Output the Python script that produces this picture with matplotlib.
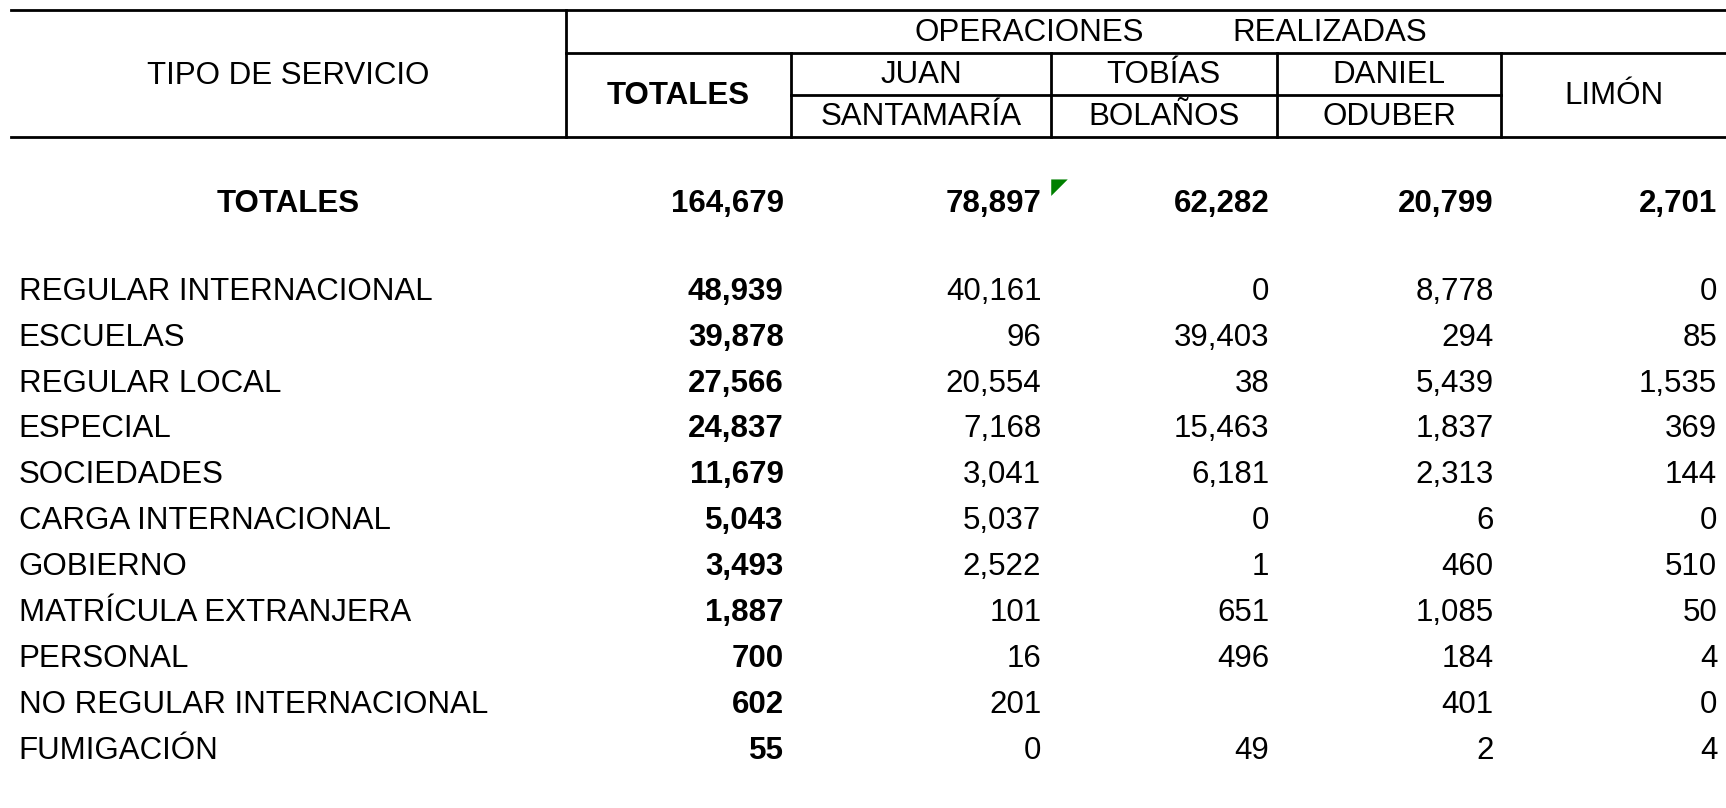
import matplotlib
matplotlib.use("Agg")
import matplotlib.pyplot as plt
from matplotlib.patches import Polygon

plt.rcParams['font.family'] = ['Liberation Sans', 'DejaVu Sans']

servicios = ["REGULAR INTERNACIONAL", "ESCUELAS", "REGULAR LOCAL", "ESPECIAL",
             "SOCIEDADES", "CARGA INTERNACIONAL", "GOBIERNO", "MATRÍCULA EXTRANJERA",
             "PERSONAL", "NO REGULAR INTERNACIONAL", "FUMIGACIÓN"]
totales = [48939, 39878, 27566, 24837, 11679, 5043, 3493, 1887, 700, 602, 55]
juan_santamaria = [40161, 96, 20554, 7168, 3041, 5037, 2522, 101, 16, 201, 0]
tobias_bolanos = [0, 39403, 38, 15463, 6181, 0, 1, 651, 496, None, 49]
daniel_oduber = [8778, 294, 5439, 1837, 2313, 6, 460, 1085, 184, 401, 2]
limon = [0, 85, 1535, 369, 144, 0, 510, 50, 4, 0, 4]
fila_totales = [164679, 78897, 62282, 20799, 2701]

columnas = [totales, juan_santamaria, tobias_bolanos, daniel_oduber, limon]

fig = plt.figure(figsize=(17.26, 8.08), dpi=100)
ax = fig.add_axes([0, 0, 1, 1])
ax.set_xlim(0, 1568)
ax.set_ylim(734, 0)
ax.axis('off')

fs = 22.5
lw = 2.0

# header lines
ax.plot([10, 1568], [9, 9], color='black', lw=lw)
ax.plot([10, 1568], [124, 124], color='black', lw=lw)
ax.plot([514, 1568], [48, 48], color='black', lw=lw)
ax.plot([719, 1364], [86, 86], color='black', lw=lw)
ax.plot([514, 514], [9, 124], color='black', lw=lw)
for xv in [719, 955, 1160, 1364]:
    ax.plot([xv, xv], [48, 124], color='black', lw=lw)

# header text
ax.text(262, 69, "TIPO DE SERVICIO", ha='center', va='center', fontsize=fs)
ax.text(616, 87, "TOTALES", ha='center', va='center', fontsize=fs, fontweight='bold')
ax.text(935, 30, "OPERACIONES", ha='center', va='center', fontsize=fs)
ax.text(1208, 30, "REALIZADAS", ha='center', va='center', fontsize=fs)
ax.text(837, 68, "JUAN", ha='center', va='center', fontsize=fs)
ax.text(837, 106, "SANTAMARÍA", ha='center', va='center', fontsize=fs)
ax.text(1057, 68, "TOBÍAS", ha='center', va='center', fontsize=fs)
ax.text(1057, 106, "BOLAÑOS", ha='center', va='center', fontsize=fs)
ax.text(1262, 68, "DANIEL", ha='center', va='center', fontsize=fs)
ax.text(1262, 106, "ODUBER", ha='center', va='center', fontsize=fs)
ax.text(1466, 87, "LIMÓN", ha='center', va='center', fontsize=fs)

col_right = [712, 946, 1153, 1357, 1560]

# totals row
ax.text(262, 185, "TOTALES", ha='center', va='center', fontsize=fs, fontweight='bold')
for xr, v in zip(col_right, fila_totales):
    ax.text(xr, 185, f"{v:,}", ha='right', va='center', fontsize=fs, fontweight='bold')

# green comment marker
ax.add_patch(Polygon([[955, 163], [970, 163], [955, 178]], closed=True,
                     facecolor='#008000', edgecolor='none'))

# data rows
y0, dy = 265, 41.7
for i, nombre in enumerate(servicios):
    y = y0 + i * dy
    ax.text(17, y, nombre, ha='left', va='center', fontsize=fs)
    for j, (xr, col) in enumerate(zip(col_right, columnas)):
        v = col[i]
        if v is None:
            continue
        ax.text(xr, y, f"{v:,}", ha='right', va='center', fontsize=fs,
                fontweight='bold' if j == 0 else 'normal')

fig.savefig("out.png", dpi=100, facecolor='white')
